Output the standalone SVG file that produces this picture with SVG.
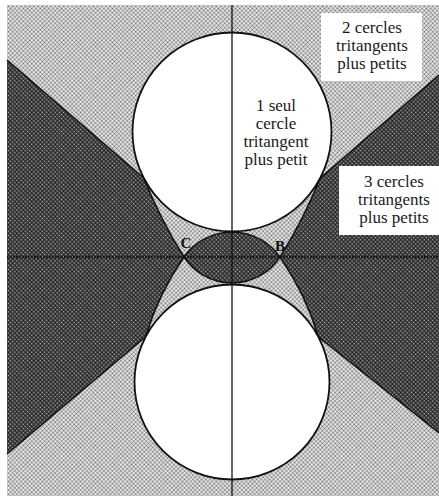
<svg xmlns="http://www.w3.org/2000/svg" width="439" height="496" viewBox="0 0 439 496">
<defs>
<pattern id="lt" width="3" height="3" patternUnits="userSpaceOnUse" patternTransform="rotate(45)">
<rect width="3" height="3" fill="#ececec"/>
<circle cx="1.5" cy="1.5" r="1" fill="#666666"/>
</pattern>
<pattern id="dk" width="3" height="3" patternUnits="userSpaceOnUse" patternTransform="rotate(45)">
<rect width="3" height="3" fill="#2a2a2a"/>
<circle cx="1.5" cy="1.5" r="0.85" fill="#b4b4b4"/>
</pattern>
</defs>
<style>
.bd{stroke:#111;stroke-width:1.5;fill:none;stroke-linejoin:round}
.dark{fill:url(#dk)}
.circ{fill:#fff;stroke:#111;stroke-width:1.8}
.lbl{font-family:"Liberation Serif","Times New Roman",serif;font-size:17px;fill:#1a1a1a;text-anchor:middle}
.pt{font-family:"Liberation Serif","Times New Roman",serif;font-size:15px;font-weight:bold;fill:#111;text-anchor:middle}
.box{fill:#fff}
</style>
<g id="background">
<rect x="0" y="0" width="439" height="496" fill="#fff"/>
<rect x="7" y="5" width="432" height="491" fill="url(#lt)"/>
</g>
<g id="regions">
<path id="wing-left" class="dark" d="M7,60 L143.8,178 Q160.3,219.3 184,257 Q158.4,294 145.5,337 L7,454 Z"/>
<path id="wing-right" class="dark" d="M439,75 L320.2,178 Q303.7,219.3 280,257 Q305.6,294 318.5,337 L439,433 Z"/>
<path id="lens" class="dark" d="M184,257 A58.6,58.6 0 0 1 280,257 A57.3,57.3 0 0 1 184,257 Z"/>
</g>
<g id="connectors">
<path class="bd" d="M7,60 L143.8,178 Q160.3,219.3 184,257 Q158.4,294 145.5,337 L7,454"/>
<path class="bd" d="M439,75 L320.2,178 Q303.7,219.3 280,257 Q305.6,294 318.5,337 L439,433"/>
<path class="bd" d="M184,257 A58.6,58.6 0 0 1 280,257 A57.3,57.3 0 0 1 184,257 Z"/>
</g>
<g id="circle-top"><circle class="circ" cx="232" cy="132" r="99.5"/></g>
<g id="circle-bottom"><circle class="circ" cx="232" cy="382" r="97.5"/></g>
<g id="axes">
<line x1="232" y1="5" x2="232" y2="496" stroke="#111" stroke-width="1.3"/>
<line x1="7" y1="257" x2="439" y2="257" stroke="#111" stroke-width="2.4" stroke-dasharray="1.6 1.4"/>
</g>
<g id="label-1">
<text class="lbl" x="276" y="111">1 seul</text>
<text class="lbl" x="276" y="129">cercle</text>
<text class="lbl" x="276" y="147">tritangent</text>
<text class="lbl" x="276" y="165">plus petit</text>
</g>
<g id="label-2">
<rect class="box" x="321" y="13" width="101" height="68"/>
<text class="lbl" x="372" y="33">2 cercles</text>
<text class="lbl" x="372" y="51">tritangents</text>
<text class="lbl" x="372" y="69">plus petits</text>
</g>
<g id="label-3">
<rect class="box" x="339" y="166" width="100" height="69"/>
<text class="lbl" x="394" y="187">3 cercles</text>
<text class="lbl" x="394" y="205">tritangents</text>
<text class="lbl" x="394" y="223">plus petits</text>
</g>
<g id="point-C"><text class="pt" x="186" y="248">C</text></g>
<g id="point-B"><text class="pt" x="280" y="251">B</text></g>
</svg>
